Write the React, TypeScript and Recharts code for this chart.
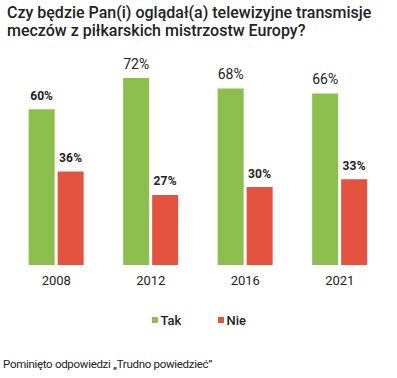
import React from 'react';
import { BarChart, Bar, XAxis, YAxis } from 'recharts';

const years = ['2008', '2012', '2016', '2021'];
const tak = [60, 72, 68, 66];
const nie = [36, 27, 30, 33];
const seriesNames = ['Tak', 'Nie'];
const colors = ['#8dbf4e', '#e4533f'];

const data = years.map((y, i) => ({ year: y, tak: tak[i], nie: nie[i] }));

const font = 'Roboto, "Noto Sans", sans-serif';

// first green label is bold/small in the original, the rest are regular
const TakLabel = (props: any) => {
  const { x, y, width, index } = props;
  const bold = index === 0;
  return (
    <text
      x={x + width / 2}
      y={y - 9.5}
      textAnchor="middle"
      fontFamily={font}
      fontSize={bold ? 12 : 14}
      fontWeight={bold ? 700 : 400}
      fill="#222"
    >
      {tak[index]}%
    </text>
  );
};

const NieLabel = (props: any) => {
  const { x, y, width, index } = props;
  return (
    <text
      x={x + width / 2}
      y={y - 9.5}
      textAnchor="middle"
      fontFamily={font}
      fontSize={12}
      fontWeight={700}
      letterSpacing={0.3}
      fill="#222"
    >
      {nie[index]}%
    </text>
  );
};

export default function App() {
  return (
    <div style={{ position: 'absolute', left: 0, top: 0, width: 397, height: 378, background: '#fff', fontFamily: font }}>
      <div style={{ position: 'absolute', left: 7, top: 4, fontSize: 16, fontWeight: 500, lineHeight: '18px', color: '#222', width: 390 }}>
        Czy będzie Pan(i) oglądał(a) telewizyjne transmisje
        <br />
        meczów z piłkarskich mistrzostw Europy?
      </div>

      <div style={{ position: 'absolute', left: 0, top: 0 }}>
        <BarChart
          width={397}
          height={300}
          data={data}
          margin={{ top: 78, right: 10, bottom: 0, left: 9 }}
          barCategoryGap="20.8%"
          barGap={3}
        >
          <XAxis
            dataKey="year"
            axisLine={false}
            tickLine={false}
            height={35}
            tickMargin={5}
            tick={{ fontSize: 13, fill: '#222', fontFamily: font }}
          />
          <YAxis hide domain={[0, 72]} />
          <Bar dataKey="tak" fill={colors[0]} isAnimationActive={false} label={<TakLabel />} />
          <Bar dataKey="nie" fill={colors[1]} isAnimationActive={false} label={<NieLabel />} />
        </BarChart>
      </div>

      <div style={{ position: 'absolute', top: 312, left: 0, width: 397, height: 16, fontSize: 13, fontWeight: 500, color: '#222' }}>
        {seriesNames.map((n, i) => (
          <div key={n} style={{ position: 'absolute', left: i === 0 ? 151.5 : 217.5, top: 0, display: 'flex', alignItems: 'center', height: 16 }}>
            <span style={{ display: 'inline-block', width: 6, height: 6, background: colors[i], marginRight: 3 }} />
            <span>{n}</span>
          </div>
        ))}
      </div>

      <div style={{ position: 'absolute', left: 3, top: 357, fontSize: 11.5, color: '#222', letterSpacing: -0.3 }}>
        Pominięto odpowiedzi „Trudno powiedzieć”
      </div>
    </div>
  );
}
